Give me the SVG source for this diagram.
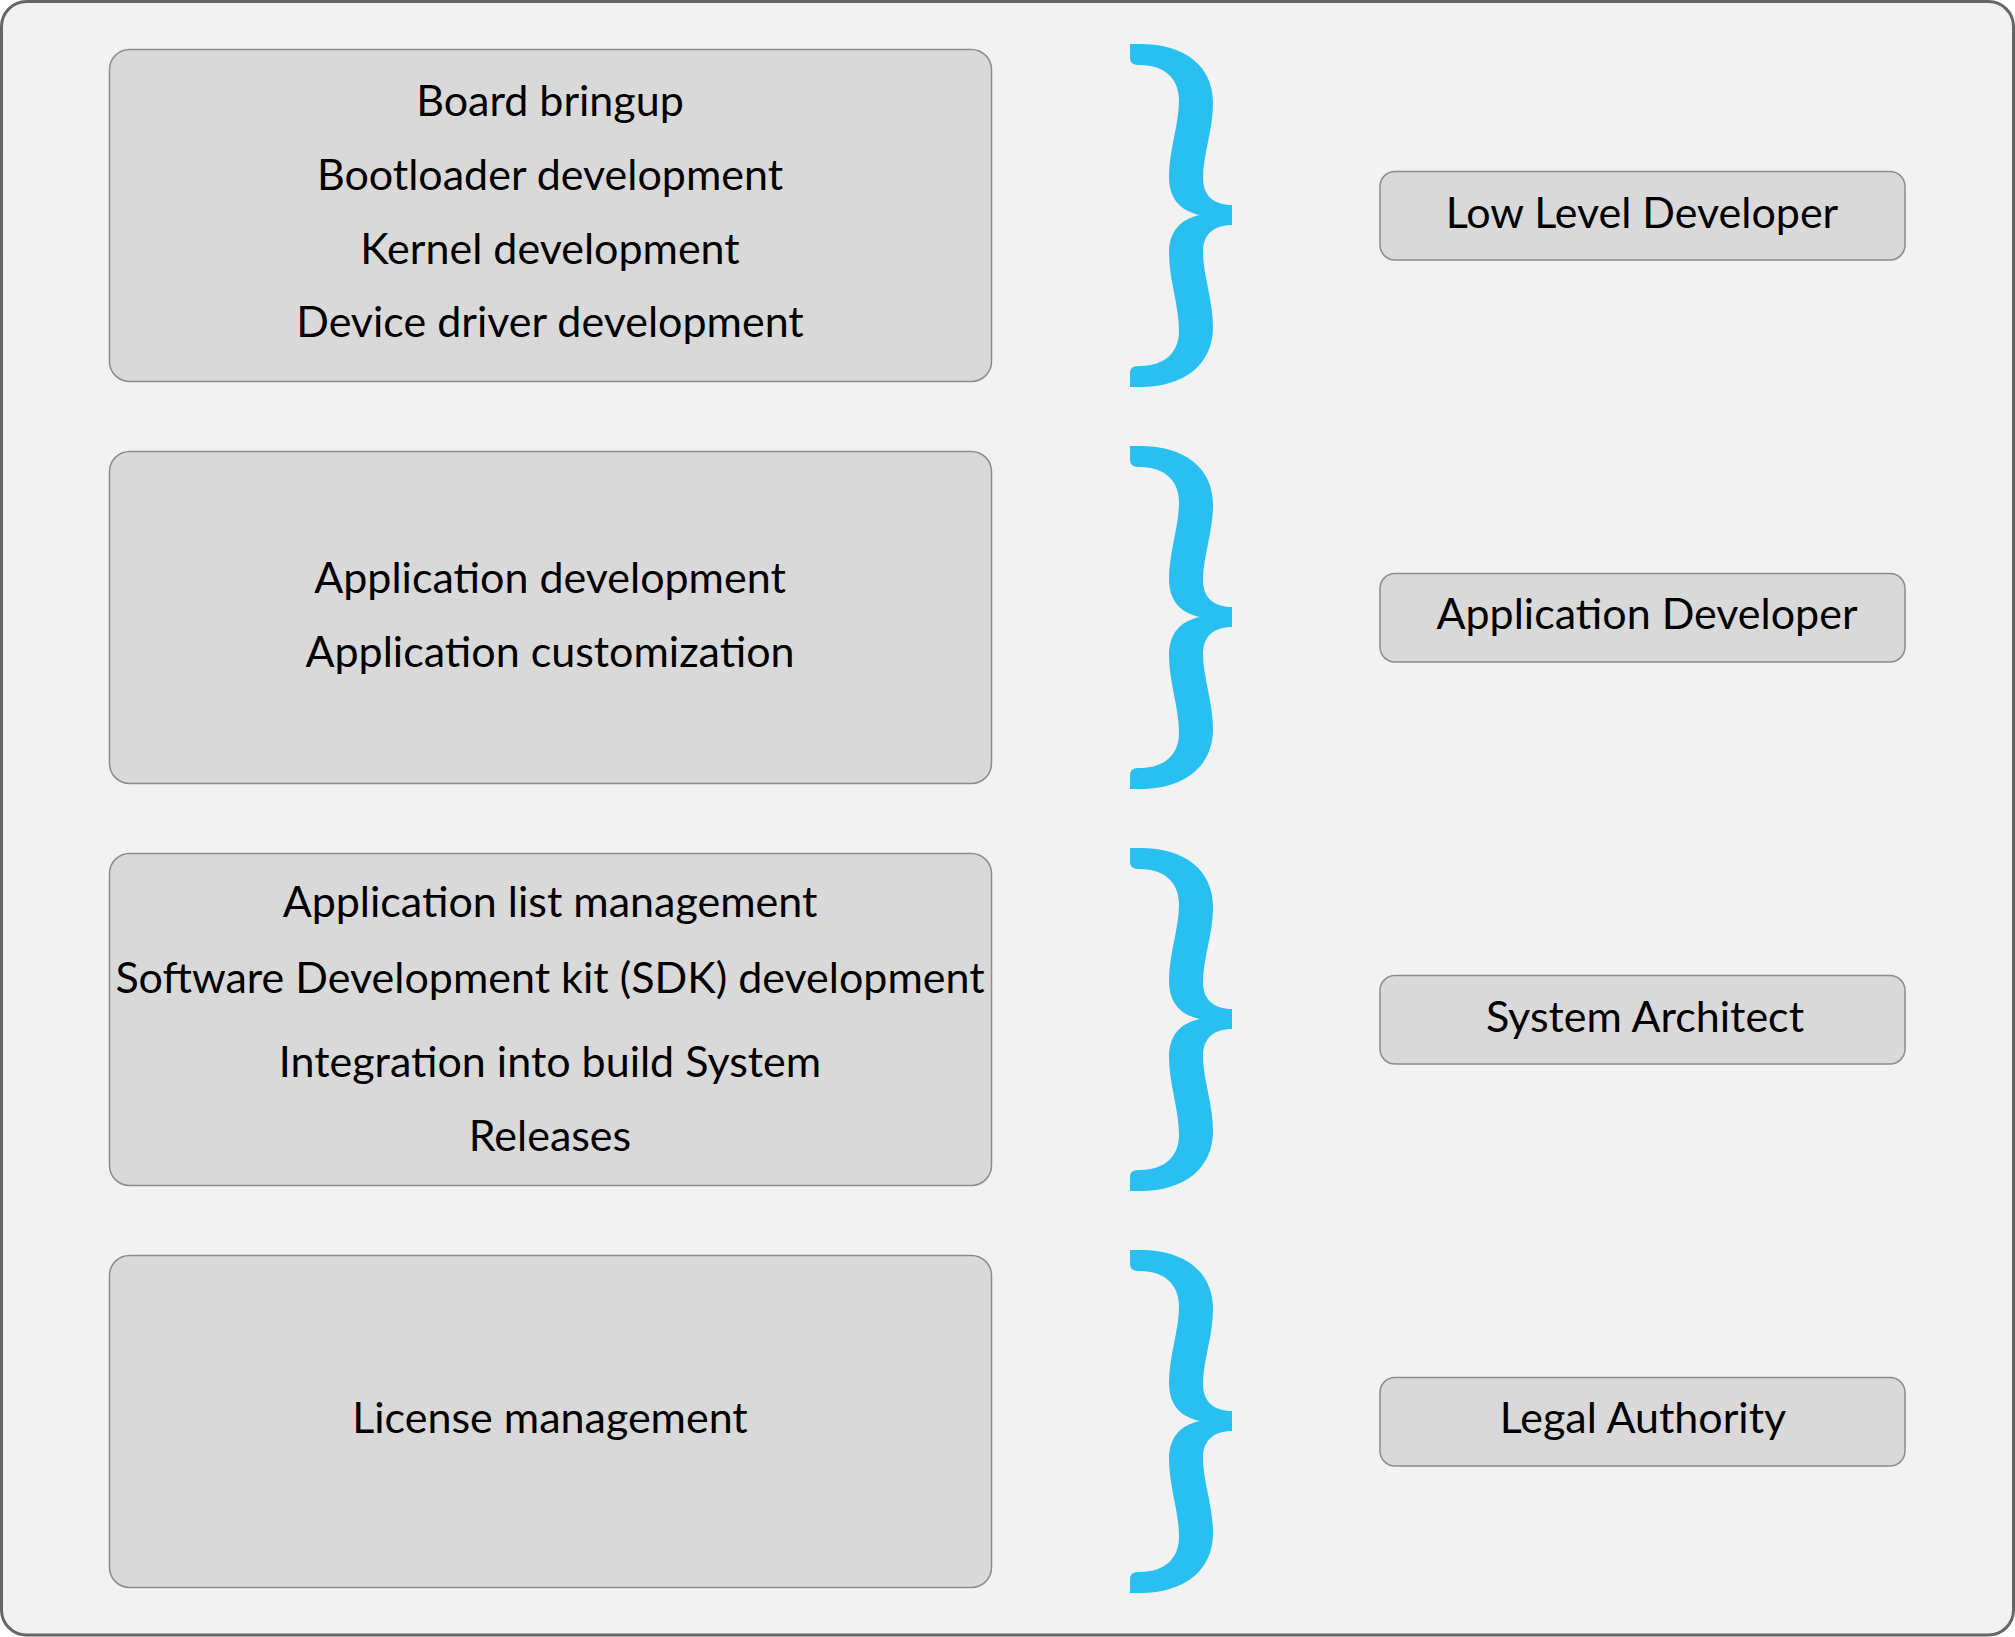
<svg xmlns="http://www.w3.org/2000/svg" width="2015" height="1637" viewBox="0 0 2015 1637">
<style>
.frame{fill:#F2F2F2;stroke:#666666;stroke-width:3}
.box{fill:#D9D9D9;stroke:#8C8C8C;stroke-width:1.5}
.brace{fill:#29BFF1}
text{font-family:Lato,"Noto Sans","Liberation Sans",sans-serif;font-size:43px;fill:#000000;text-anchor:middle}
</style>
<defs>
<path id="brace" d="M 1130 44 L 1140 44 C 1185 44 1213 66 1213 103 C 1213 130 1203 155 1203 178 C 1203 196 1214 205 1232 205 L 1232 225 C 1214 225 1203 234 1203 252 C 1203 275 1213 300 1213 327 C 1213 364 1185 387 1140 387 L 1130 387 L 1130 373 Q 1130 366 1138 366 L 1140 366 C 1165 366 1179 352 1179 331 C 1179 305 1169 280 1169 253 C 1169 232 1180 219 1200 215 C 1180 211 1169 198 1169 177 C 1169 150 1179 125 1179 100 C 1179 79 1165 65 1140 65 L 1138 65 Q 1130 65 1130 58 Z"/>
</defs>
<rect class="frame" x="1.5" y="1.5" width="2012" height="1633.5" rx="25"/>
<g id="connectors">
<use href="#brace" class="brace"/>
<use href="#brace" class="brace" transform="translate(0,402)"/>
<use href="#brace" class="brace" transform="translate(0,804)"/>
<use href="#brace" class="brace" transform="translate(0,1206)"/>
</g>
<g id="tasks-low">
<rect class="box" x="109.5" y="49.5" width="882" height="332" rx="20"/>
<text x="550" y="116">Board bringup</text>
<text x="550" y="190">Bootloader development</text>
<text x="550" y="264">Kernel development</text>
<text x="550" y="337">Device driver development</text>
</g>
<g id="tasks-app">
<rect class="box" x="109.5" y="451.5" width="882" height="332" rx="20"/>
<text x="550" y="593">Application development</text>
<text x="550" y="667">Application customization</text>
</g>
<g id="tasks-arch">
<rect class="box" x="109.5" y="853.5" width="882" height="332" rx="20"/>
<text x="550" y="917">Application list management</text>
<text x="550" y="993">Software Development kit (SDK) development</text>
<text x="550" y="1077">Integration into build System</text>
<text x="550" y="1151">Releases</text>
</g>
<g id="tasks-legal">
<rect class="box" x="109.5" y="1255.5" width="882" height="332" rx="20"/>
<text x="550" y="1433">License management</text>
</g>
<g id="role-low">
<rect class="box" x="1380" y="171.5" width="525" height="88.5" rx="15"/>
<text x="1642" y="228">Low Level Developer</text>
</g>
<g id="role-app">
<rect class="box" x="1380" y="573.5" width="525" height="88.5" rx="15"/>
<text x="1647" y="629">Application Developer</text>
</g>
<g id="role-arch">
<rect class="box" x="1380" y="975.5" width="525" height="88.5" rx="15"/>
<text x="1645" y="1032">System Architect</text>
</g>
<g id="role-legal">
<rect class="box" x="1380" y="1377.5" width="525" height="88.5" rx="15"/>
<text x="1643" y="1433">Legal Authority</text>
</g>
</svg>
